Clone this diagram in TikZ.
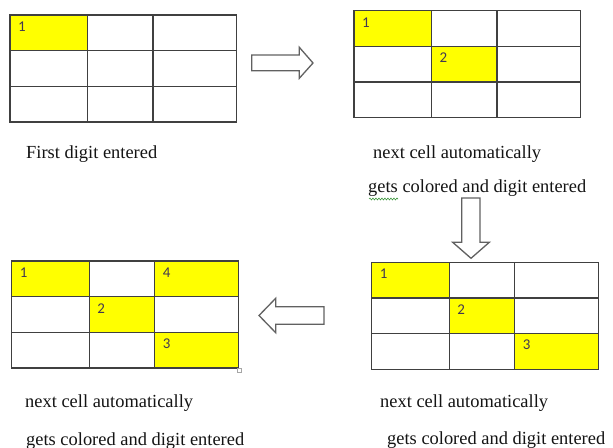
\documentclass[tikz,border=0pt]{standalone}
\usepackage{fontspec}
\setmainfont{Liberation Serif}
\newfontfamily\digitfont{Carlito}
\usetikzlibrary{decorations.pathmorphing}

\definecolor{cellyellow}{RGB}{255,255,0}
\definecolor{digitgray}{RGB}{66,56,82}
\definecolor{squiggle}{RGB}{60,150,60}

% the 3x3 table outline, in local coordinates of a shifted scope
\newcommand\tablelines{%
  \draw[gridline] (0,0) rectangle (226.5,107)
    (77.5,0) -- (77.5,107) (143,0) -- (143,107)
    (0,35.7) -- (226.5,35.7) (0,71.3) -- (226.5,71.3);}

\tikzset{
  gridline/.style={draw=black!75, line width=1.2bp},
  hicell/.style={fill=cellyellow},
  digit/.style={font=\digitfont\fontsize{15}{15}\selectfont, text=digitgray,
    anchor=center, inner sep=0},
  caption/.style={font=\fontsize{18.5}{20}\selectfont, anchor=base west,
    inner sep=0, text=black!92},
  blockarrow/.style={draw=black!62, line width=1.3bp, fill=white, line join=miter},
}

\begin{document}
\begin{tikzpicture}[x=1bp,y=-1bp]
\useasboundingbox[fill=white] (0,0) rectangle (613,448);

% first table: one highlighted cell
\begin{scope}[shift={(10,15)}]
  \fill[hicell] (0,0) rectangle (77.5,35.7);
  \node[digit] (a1) at (12,11.5) {1};
  \tablelines
\end{scope}

% second table: diagonal step 2
\begin{scope}[shift={(354,10.7)}]
  \fill[hicell] (0,0) rectangle (77.5,35.7);
  \fill[hicell] (77.5,35.7) rectangle (143,71.3);
  \node[digit] (b1) at (12,11.5) {1};
  \node[digit] (b2) at (89.5,47.2) {2};
  \tablelines
\end{scope}

% third table: diagonal step 3
\begin{scope}[shift={(371.7,262.3)}]
  \fill[hicell] (0,0) rectangle (77.5,35.7);
  \fill[hicell] (77.5,35.7) rectangle (143,71.3);
  \fill[hicell] (143,71.3) rectangle (226.5,107);
  \node[digit] (c1) at (12,11.5) {1};
  \node[digit] (c2) at (89.5,47.2) {2};
  \node[digit] (c3) at (155,82.8) {3};
  \tablelines
\end{scope}

% fourth table: digit 4 in the top right cell
\begin{scope}[shift={(11.7,261)}]
  \fill[hicell] (0,0) rectangle (77.5,35.7);
  \fill[hicell] (77.5,35.7) rectangle (143,71.3);
  \fill[hicell] (143,71.3) rectangle (226.5,107);
  \fill[hicell] (143,0) rectangle (226.5,35.7);
  \node[digit] (e1) at (12,11.5) {1};
  \node[digit] (e2) at (89.5,47.2) {2};
  \node[digit] (e3) at (155,82.8) {3};
  \node[digit] (e4) at (155,11.5) {4};
  \tablelines
  % small resize handle at the corner
  \draw[black!35, line width=0.7bp] (225.5,107.8) rectangle (229.5,111.8);
\end{scope}

% block arrows between the stages
\draw[blockarrow] (251.7,55) -- (299.3,55) -- (299.3,47.3) -- (313,63)
  -- (299.3,78.3) -- (299.3,70.7) -- (251.7,70.7) -- cycle;
\draw[blockarrow] (461.7,198) -- (480,198) -- (480,242.3) -- (489.3,242.3)
  -- (471,258.3) -- (452.7,242.3) -- (461.7,242.3) -- cycle;
\draw[blockarrow] (324,306.7) -- (275.7,306.7) -- (275.7,298.3) -- (259,315.5)
  -- (275.7,332.7) -- (275.7,324.3) -- (324,324.3) -- cycle;

% captions
\node[caption] (t1) at (26,159) {First digit entered};
\node[caption] (t2) at (373,159) {next cell automatically};
\node[caption] (t3) at (368,193) {gets colored and digit entered};
\node[caption] (t4) at (380,407.5) {next cell automatically};
\node[caption] (t5) at (387,444.3) {gets colored and digit entered};
\node[caption] (t6) at (25,407.5) {next cell automatically};
\node[caption] (t7) at (26,445) {gets colored and digit entered};

% spell-check underline below "gets"
\draw[squiggle, line width=0.6bp,
  decorate, decoration={snake, amplitude=0.9bp, segment length=3bp}]
  (369,199) -- (398,199);
\end{tikzpicture}
\end{document}
